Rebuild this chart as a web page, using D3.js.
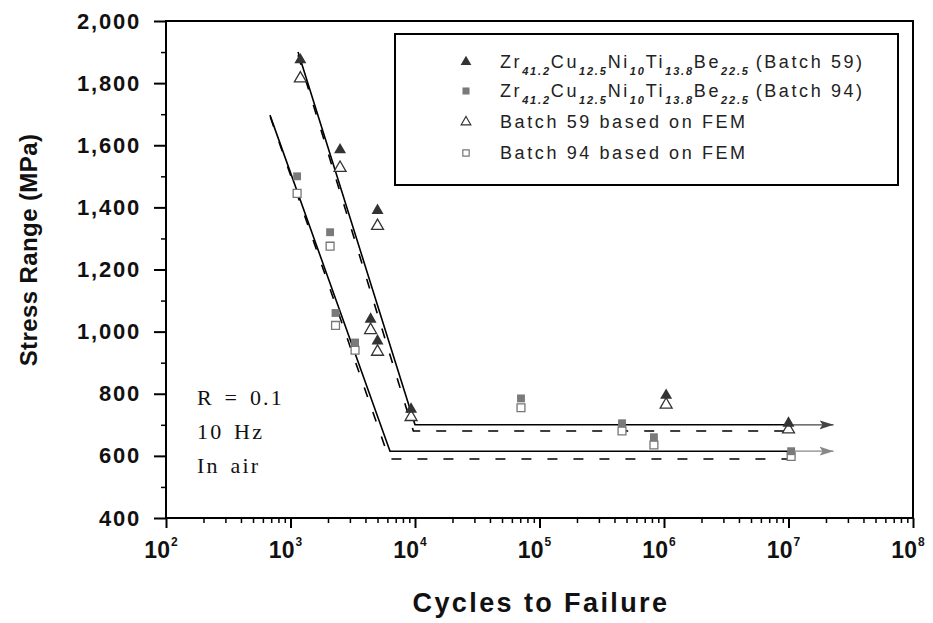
<!DOCTYPE html>
<html>
<head>
<meta charset="utf-8">
<script src="https://cdn.jsdelivr.net/npm/d3@7"></script>
<style>
  body { margin: 0; background: #fff; }
  svg { display: block; }
</style>
</head>
<body>
<div id="chart"></div>
<script>
// data
const xTicks = [1e2, 1e3, 1e4, 1e5, 1e6, 1e7, 1e8];
const yTicks = [400, 600, 800, 1000, 1200, 1400, 1600, 1800, 2000];

const b59N = [1200, 2500, 5000, 4400, 5000, 9300, 1.04e6, 1e7];
const b59S = [1875, 1585, 1390, 1040, 970, 750, 795, 705];
const fem59S = [1815, 1527, 1340, 1005, 935, 725, 765, 685];

const b94N = [1130, 2080, 2300, 3300, 71000, 4.6e5, 8.3e5, 1.05e7];
const b94S = [1500, 1320, 1060, 965, 785, 705, 660, 615];
const fem94S = [1445, 1275, 1020, 940, 755, 680, 635, 598];

// fitted S-N lines (knee + endurance limit)
const fit59N = [1150, 10000, 1e7];
const fit59S = [1900, 700, 700];
const fit59DashN = [1150, 9700, 1e7];
const fit59DashS = [1890, 680, 680];
const fit94N = [684, 6300, 1e7];
const fit94S = [1697, 615, 615];
const fit94DashN = [690, 6200, 1e7];
const fit94DashS = [1690, 590, 590];
const arrowN = [1e7, 2.3e7];

const conditions = ["R = 0.1", "10 Hz", "In air"];

const W = 933, H = 623;

const svg = d3.select("#chart").append("svg")
    .attr("width", W)
    .attr("height", H)
    .style("font-family", "'Liberation Sans', Arial, sans-serif");

const x = d3.scaleLog().domain([1e2, 1e8]).range([166, 913]);
const y = d3.scaleLinear().domain([400, 2000]).range([518, 21]);

// arrow heads
const defs = svg.append("defs");
[["arrDark", "#444"], ["arrGrey", "#888"]].forEach(([id, c]) => {
    defs.append("marker")
        .attr("id", id)
        .attr("viewBox", "0 -5 14 10")
        .attr("refX", 14)
        .attr("refY", 0)
        .attr("markerWidth", 14)
        .attr("markerHeight", 10)
        .attr("markerUnits", "userSpaceOnUse")
        .attr("orient", "auto")
        .append("path")
        .attr("d", "M0,-4.5 L14,0 L0,4.5 L3,0 Z")
        .attr("fill", c);
});

// minor ticks
const minorX = [];
for (let d = 2; d < 8; d++) {
    for (let k = 2; k <= 9; k++) minorX.push(k * Math.pow(10, d));
}
const minorY = d3.range(500, 2000, 200);

svg.append("g")
    .attr("transform", "translate(0,518)")
    .call(d3.axisBottom(x).tickValues(minorX).tickSize(5).tickFormat(""))
    .call(g => g.select(".domain").remove())
    .selectAll("line").attr("stroke", "#000").attr("stroke-width", 1.5);

svg.append("g")
    .attr("transform", "translate(0,518)")
    .call(d3.axisBottom(x).tickValues(xTicks).tickSize(10).tickFormat(""))
    .call(g => g.select(".domain").remove())
    .selectAll("line").attr("stroke", "#000").attr("stroke-width", 2);

svg.append("g")
    .attr("transform", "translate(166,0)")
    .call(d3.axisLeft(y).tickValues(minorY).tickSize(5).tickFormat(""))
    .call(g => g.select(".domain").remove())
    .selectAll("line").attr("stroke", "#000").attr("stroke-width", 1.5);

const yAxis = svg.append("g")
    .attr("transform", "translate(166,0)")
    .call(d3.axisLeft(y).tickValues(yTicks).tickSize(12).tickPadding(13)
        .tickFormat(d3.format(",")))
    .call(g => g.select(".domain").remove());
yAxis.selectAll("line").attr("stroke", "#000").attr("stroke-width", 2);
yAxis.selectAll("text")
    .attr("font-size", 22)
    .attr("font-weight", "bold")
    .attr("letter-spacing", 1.8)
    .attr("fill", "#111");

// x tick labels 10^n
const xl = svg.append("g").selectAll("text")
    .data(xTicks)
    .enter().append("text")
    .attr("x", d => x(d) - 5)
    .attr("y", 558)
    .attr("text-anchor", "middle")
    .attr("font-size", 23)
    .attr("font-weight", "bold")
    .attr("fill", "#111");
xl.append("tspan").text("10");
xl.append("tspan")
    .attr("font-size", 12)
    .attr("dy", -12)
    .attr("dx", 1)
    .text(d => Math.round(Math.log10(d)));

// frame
svg.append("rect")
    .attr("x", 166).attr("y", 21)
    .attr("width", 913 - 166).attr("height", 518 - 21)
    .attr("fill", "none")
    .attr("stroke", "#000")
    .attr("stroke-width", 2);

// axis titles
svg.append("text")
    .attr("transform", "translate(37,250) rotate(-90)")
    .attr("text-anchor", "middle")
    .attr("font-size", 24)
    .attr("font-weight", "bold")
    .attr("letter-spacing", 0.4)
    .attr("fill", "#111")
    .text("Stress Range (MPa)");

svg.append("text")
    .attr("x", 541)
    .attr("y", 612)
    .attr("text-anchor", "middle")
    .attr("font-size", 27)
    .attr("font-weight", "bold")
    .attr("letter-spacing", 2.4)
    .attr("fill", "#111")
    .text("Cycles to Failure");

// fit lines
const line = d3.line().x(d => x(d[0])).y(d => y(d[1]));
const fits = [
    [fit59N, fit59S, null],
    [fit59DashN, fit59DashS, "10,16"],
    [fit94N, fit94S, null],
    [fit94DashN, fit94DashS, "10,16"]
];
fits.forEach(([ns, ss, dash]) => {
    svg.append("path")
        .datum(ns.map((n, i) => [n, ss[i]]))
        .attr("d", line)
        .attr("fill", "none")
        .attr("stroke", "#000")
        .attr("stroke-width", 1.6)
        .attr("stroke-dasharray", dash);
});

// run-out arrows
[[fit59S[2], "#444", "arrDark"], [fit94S[2], "#888", "arrGrey"]].forEach(([s, c, m]) => {
    svg.append("path")
        .datum(arrowN.map(n => [n, s]))
        .attr("d", line)
        .attr("stroke", c)
        .attr("stroke-width", 1.3)
        .attr("marker-end", `url(#${m})`);
});

// points
const tri = d3.symbol().type(d3.symbolTriangle).size(62);
const sq = d3.symbol().type(d3.symbolSquare).size(62);

function plot(ns, ss, sym, fill, stroke) {
    svg.append("g").selectAll("path")
        .data(ns.map((n, i) => [n, ss[i]]))
        .enter().append("path")
        .attr("transform", d => `translate(${x(d[0])},${y(d[1])})`)
        .attr("d", sym)
        .attr("fill", fill)
        .attr("stroke", stroke)
        .attr("stroke-width", 1.3);
}
plot(b94N, fem94S, sq, "#fff", "#777");
plot(b94N, b94S, sq, "#7a7a7a", "none");
plot(b59N, fem59S, tri, "#fff", "#333");
plot(b59N, b59S, tri, "#333", "none");

// test conditions
svg.append("g").selectAll("text")
    .data(conditions)
    .enter().append("text")
    .attr("x", 197)
    .attr("y", (d, i) => 405 + i * 34)
    .attr("font-family", "'Liberation Serif', 'Times New Roman', serif")
    .attr("font-size", 22)
    .attr("letter-spacing", 2.2)
    .attr("word-spacing", 3)
    .attr("fill", "#111")
    .text(d => d);

// legend
const leg = svg.append("g");
leg.append("rect")
    .attr("x", 395).attr("y", 34)
    .attr("width", 898 - 395).attr("height", 185 - 34)
    .attr("fill", "#fff")
    .attr("stroke", "#000")
    .attr("stroke-width", 2);

const legRows = [
    { sym: tri, fill: "#333", stroke: "none", alloy: true, tag: "(Batch 59)" },
    { sym: sq, fill: "#7a7a7a", stroke: "none", alloy: true, tag: "(Batch 94)" },
    { sym: tri, fill: "#fff", stroke: "#333", alloy: false, tag: "Batch 59 based on FEM" },
    { sym: sq, fill: "#fff", stroke: "#777", alloy: false, tag: "Batch 94 based on FEM" }
];
const alloyParts = [["Zr", "41.2"], ["Cu", "12.5"], ["Ni", "10"], ["Ti", "13.8"], ["Be", "22.5"]];
const legY = [62, 91, 122, 153];

legRows.forEach((r, i) => {
    leg.append("path")
        .attr("transform", `translate(466,${legY[i]})`)
        .attr("d", r.sym.size(r.stroke === "none" ? 50 : 40)())
        .attr("fill", r.fill)
        .attr("stroke", r.stroke)
        .attr("stroke-width", 1.2);
    const t = leg.append("text")
        .attr("x", 500)
        .attr("y", legY[i] + 6)
        .attr("font-size", 18)
        .attr("letter-spacing", 2.6)
        .attr("fill", "#222");
    if (r.alloy) {
        alloyParts.forEach(([el, sub], k) => {
            t.append("tspan").attr("dy", k === 0 ? 0 : -7).text(el);
            t.append("tspan")
                .attr("dy", 7)
                .attr("font-size", 11)
                .attr("font-style", "italic")
                .attr("font-weight", "bold")
                .attr("letter-spacing", 1.8)
                .text(sub);
        });
        t.append("tspan").attr("dy", -7).attr("dx", 6).text(r.tag);
    } else {
        t.text(r.tag);
    }
});
</script>
</body>
</html>
